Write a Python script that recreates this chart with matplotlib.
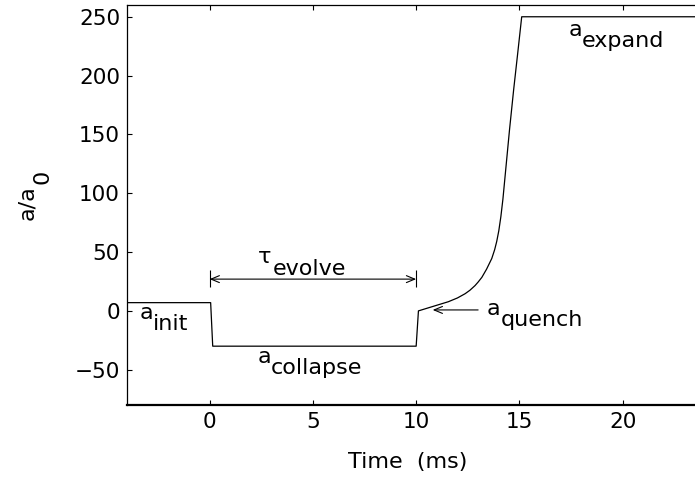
import matplotlib
matplotlib.use("Agg")
import matplotlib.pyplot as plt

plt.rcParams['font.family'] = ['DejaVu Sans']

# scattering length sequence (ms, a/a0)
time = [-4.0, 0.05, 0.15, 10.0, 10.11, 10.76, 11.56, 12.0, 12.37, 12.6,
        12.85, 13.0, 13.18, 13.41, 13.66, 13.8, 13.9, 14.0, 14.1, 14.2,
        14.33, 14.52, 14.72, 14.91, 15.11, 23.5]
a_ratio = [7, 7, -30, -30, 0, 3.5, 7.8, 11, 14.6, 17.5,
           21.5, 24.5, 28.5, 35.5, 44.5, 52, 59, 68, 80, 95,
           119, 154, 188, 218, 250, 250]

xticks = [0, 5, 10, 15, 20]
yticks = [-50, 0, 50, 100, 150, 200, 250]

# label text: (x, y, main, subscript)
labels = [
    (-3.4, -7.0, 'a', 'init'),
    (2.31, -44.2, 'a', 'collapse'),
    (13.43, -3.6, 'a', 'quench'),
    (17.36, 234, 'a', 'expand'),
    (2.36, 40.3, '\u03c4', 'evolve'),
]

fig = plt.figure(figsize=(6.95, 4.79), dpi=100)
ax = fig.add_axes([127 / 695, 74 / 479, 1 - 127 / 695, 400 / 479])

ax.plot(time, a_ratio, color='black', linewidth=0.9)

ax.set_xlim(-4, 23.5)
ax.set_ylim(-80, 260)
ax.set_xticks(xticks)
ax.set_yticks(yticks)
ax.tick_params(direction='in', top=True, right=False, length=3.5, width=0.8,
               labelsize=15.5, pad=5)
ax.spines['right'].set_visible(False)
for s in ['left', 'top']:
    ax.spines[s].set_linewidth(0.9)
ax.spines['bottom'].set_linewidth(1.6)

# axis labels (MATLAB-style full-size subscript)
fig.text(408 / 695, 1 - 468 / 479, 'Time  (ms)', fontsize=16,
         ha='center', va='baseline')
fig.text(27 / 695, 1 - 203 / 479, 'a/a', fontsize=16, rotation=90,
         ha='center', va='center')
fig.text(42 / 695, 1 - 177 / 479, '0', fontsize=16, rotation=90,
         ha='center', va='center')

for x, y, main, sub in labels:
    ax.text(x, y, main, fontsize=16, va='baseline')
    ax.annotate(sub, xy=(x, y), xytext=(10, -8), textcoords='offset points',
                fontsize=16, va='baseline')

ax.annotate('', xy=(0, 27), xytext=(10, 27),
            arrowprops=dict(arrowstyle='<->,head_length=0.6,head_width=0.25',
                            color='black', lw=0.8, shrinkA=0, shrinkB=0))
ax.vlines([0, 10], 20.5, 35, color='black', linewidth=0.8)
ax.annotate('', xy=(10.8, 0.8), xytext=(13.0, 0.8),
            arrowprops=dict(arrowstyle='->,head_length=0.6,head_width=0.25',
                            color='black', lw=0.8, shrinkA=0, shrinkB=0))

fig.savefig('out.png', dpi=100)
